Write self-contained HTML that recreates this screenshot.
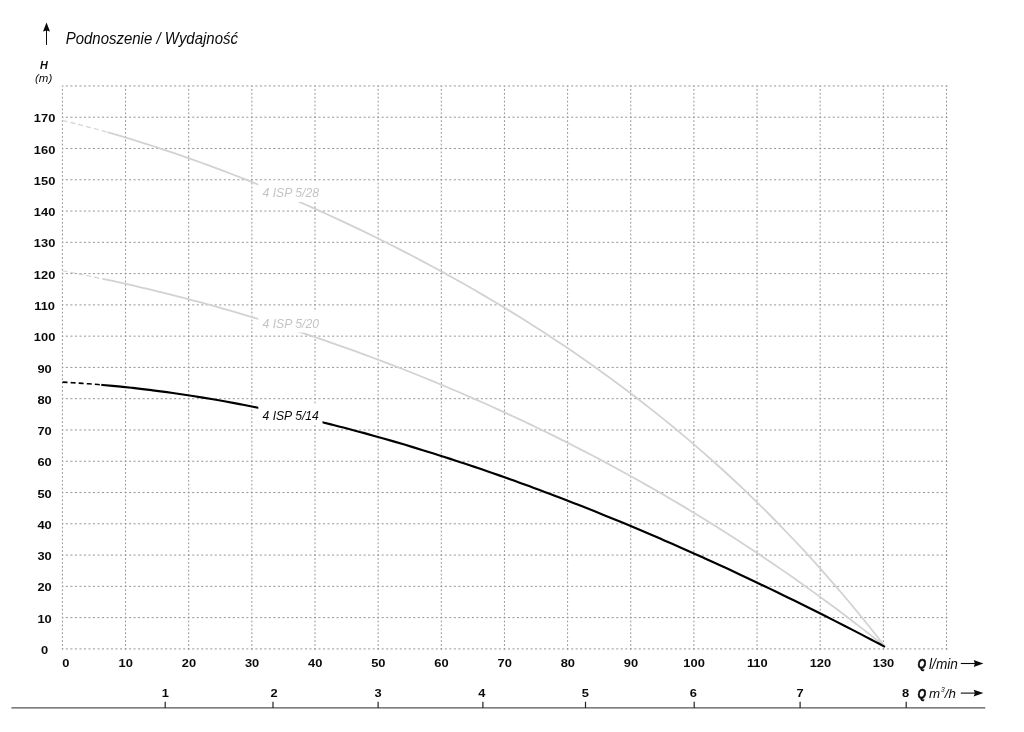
<!DOCTYPE html>
<html lang="pl"><head><meta charset="utf-8"><title>Podnoszenie / Wydajność</title>
<style>html,body{margin:0;padding:0;background:#fff}body{width:1024px;height:732px;overflow:hidden}svg{display:block;will-change:transform}
text{font-family:"Liberation Sans",Arial,sans-serif;fill:#0a0a0a}
.n{font-weight:bold;font-size:11.5px;text-anchor:middle}
.it{font-style:italic}.bi{font-style:italic;font-weight:bold}
</style></head><body>
<svg width="1024" height="732" viewBox="0 0 1024 732">
<rect width="1024" height="732" fill="#fff"/>
<g stroke="#949494" stroke-width="1" fill="none">
<path d="M62.40 85.95H947.50" stroke-dasharray="2 2.511" stroke-dashoffset="1"/>
<path d="M62.40 117.22H947.50" stroke-dasharray="2 2.511" stroke-dashoffset="1"/>
<path d="M62.40 148.50H947.50" stroke-dasharray="2 2.511" stroke-dashoffset="1"/>
<path d="M62.40 179.77H947.50" stroke-dasharray="2 2.511" stroke-dashoffset="1"/>
<path d="M62.40 211.05H947.50" stroke-dasharray="2 2.511" stroke-dashoffset="1"/>
<path d="M62.40 242.32H947.50" stroke-dasharray="2 2.511" stroke-dashoffset="1"/>
<path d="M62.40 273.60H947.50" stroke-dasharray="2 2.511" stroke-dashoffset="1"/>
<path d="M62.40 304.88H947.50" stroke-dasharray="2 2.511" stroke-dashoffset="1"/>
<path d="M62.40 336.15H947.50" stroke-dasharray="2 2.511" stroke-dashoffset="1"/>
<path d="M62.40 367.42H947.50" stroke-dasharray="2 2.511" stroke-dashoffset="1"/>
<path d="M62.40 398.70H947.50" stroke-dasharray="2 2.511" stroke-dashoffset="1"/>
<path d="M62.40 429.97H947.50" stroke-dasharray="2 2.511" stroke-dashoffset="1"/>
<path d="M62.40 461.25H947.50" stroke-dasharray="2 2.511" stroke-dashoffset="1"/>
<path d="M62.40 492.52H947.50" stroke-dasharray="2 2.511" stroke-dashoffset="1"/>
<path d="M62.40 523.80H947.50" stroke-dasharray="2 2.511" stroke-dashoffset="1"/>
<path d="M62.40 555.08H947.50" stroke-dasharray="2 2.511" stroke-dashoffset="1"/>
<path d="M62.40 586.35H947.50" stroke-dasharray="2 2.511" stroke-dashoffset="1"/>
<path d="M62.40 617.62H947.50" stroke-dasharray="2 2.511" stroke-dashoffset="1"/>
<path d="M62.40 648.90H947.50" stroke-dasharray="2 2.511" stroke-dashoffset="1"/>
<path d="M62.40 85.95V649.90" stroke-dasharray="1.8 2.109" stroke-dashoffset="0.9"/>
<path d="M125.55 85.95V649.90" stroke-dasharray="1.8 2.109" stroke-dashoffset="0.9"/>
<path d="M188.70 85.95V649.90" stroke-dasharray="1.8 2.109" stroke-dashoffset="0.9"/>
<path d="M251.85 85.95V649.90" stroke-dasharray="1.8 2.109" stroke-dashoffset="0.9"/>
<path d="M315.00 85.95V649.90" stroke-dasharray="1.8 2.109" stroke-dashoffset="0.9"/>
<path d="M378.15 85.95V649.90" stroke-dasharray="1.8 2.109" stroke-dashoffset="0.9"/>
<path d="M441.30 85.95V649.90" stroke-dasharray="1.8 2.109" stroke-dashoffset="0.9"/>
<path d="M504.45 85.95V649.90" stroke-dasharray="1.8 2.109" stroke-dashoffset="0.9"/>
<path d="M567.60 85.95V649.90" stroke-dasharray="1.8 2.109" stroke-dashoffset="0.9"/>
<path d="M630.75 85.95V649.90" stroke-dasharray="1.8 2.109" stroke-dashoffset="0.9"/>
<path d="M693.90 85.95V649.90" stroke-dasharray="1.8 2.109" stroke-dashoffset="0.9"/>
<path d="M757.05 85.95V649.90" stroke-dasharray="1.8 2.109" stroke-dashoffset="0.9"/>
<path d="M820.20 85.95V649.90" stroke-dasharray="1.8 2.109" stroke-dashoffset="0.9"/>
<path d="M883.35 85.95V649.90" stroke-dasharray="1.8 2.109" stroke-dashoffset="0.9"/>
<path d="M946.50 85.95V649.90" stroke-dasharray="1.8 2.109" stroke-dashoffset="0.9"/>
</g>
<clipPath id="c43759a"><rect x="0" y="0" width="107.50" height="732"/></clipPath>
<clipPath id="c43759b"><rect x="107.50" y="0" width="916.50" height="732"/></clipPath>
<path d="M62.50 120.48 C64.17 120.89 69.18 122.10 72.52 122.93 C75.86 123.76 79.20 124.62 82.54 125.48 C85.88 126.35 89.22 127.24 92.55 128.14 C95.89 129.04 99.23 129.95 102.57 130.89 C105.91 131.82 109.25 132.77 112.59 133.73 C115.93 134.69 119.27 135.67 122.61 136.66 C125.95 137.66 129.29 138.67 132.63 139.69 C135.97 140.71 139.31 141.75 142.65 142.80 C145.99 143.85 149.33 144.92 152.66 146.00 C156.00 147.08 159.34 148.18 162.68 149.28 C166.02 150.39 169.36 151.51 172.70 152.65 C176.04 153.79 179.38 154.93 182.72 156.10 C186.06 157.26 189.40 158.44 192.74 159.62 C196.08 160.81 199.42 162.02 202.76 163.23 C206.10 164.45 209.43 165.67 212.77 166.92 C216.11 168.16 219.45 169.41 222.79 170.68 C226.13 171.94 229.47 173.22 232.81 174.51 C236.15 175.80 239.49 177.11 242.83 178.42 C246.17 179.74 249.51 181.07 252.85 182.41 C256.19 183.75 259.53 185.11 262.87 186.47 C266.21 187.84 269.54 189.22 272.88 190.61 C276.22 192.00 279.56 193.40 282.90 194.81 C286.24 196.23 289.58 197.66 292.92 199.09 C296.26 200.53 299.60 201.99 302.94 203.45 C306.28 204.91 309.62 206.39 312.96 207.88 C316.30 209.37 319.64 210.87 322.98 212.38 C326.32 213.89 329.65 215.42 332.99 216.95 C336.33 218.49 339.67 220.04 343.01 221.61 C346.35 223.17 349.69 224.74 353.03 226.33 C356.37 227.92 359.71 229.52 363.05 231.13 C366.39 232.75 369.73 234.37 373.07 236.01 C376.41 237.65 379.75 239.30 383.09 240.97 C386.42 242.63 389.76 244.31 393.10 246.00 C396.44 247.69 399.78 249.40 403.12 251.12 C406.46 252.84 409.80 254.57 413.14 256.31 C416.48 258.06 419.82 259.82 423.16 261.59 C426.50 263.37 429.84 265.15 433.18 266.96 C436.52 268.76 439.86 270.58 443.20 272.41 C446.53 274.24 449.87 276.08 453.21 277.95 C456.55 279.81 459.89 281.68 463.23 283.57 C466.57 285.47 469.91 287.37 473.25 289.29 C476.59 291.22 479.93 293.15 483.27 295.11 C486.61 297.06 489.95 299.03 493.29 301.02 C496.63 303.01 499.97 305.01 503.30 307.03 C506.64 309.05 509.98 311.09 513.32 313.14 C516.66 315.20 520.00 317.27 523.34 319.36 C526.68 321.45 530.02 323.56 533.36 325.68 C536.70 327.81 540.04 329.95 543.38 332.11 C546.72 334.28 550.06 336.46 553.40 338.66 C556.74 340.86 560.08 343.08 563.41 345.32 C566.75 347.56 570.09 349.82 573.43 352.10 C576.77 354.39 580.11 356.69 583.45 359.01 C586.79 361.33 590.13 363.68 593.47 366.04 C596.81 368.41 600.15 370.79 603.49 373.20 C606.83 375.61 610.17 378.04 613.51 380.50 C616.85 382.95 620.18 385.43 623.52 387.93 C626.86 390.43 630.20 392.96 633.54 395.51 C636.88 398.05 640.22 400.63 643.56 403.23 C646.90 405.83 650.24 408.45 653.58 411.10 C656.92 413.75 660.26 416.42 663.60 419.12 C666.94 421.83 670.28 424.55 673.62 427.31 C676.96 430.06 680.29 432.85 683.63 435.66 C686.97 438.47 690.31 441.31 693.65 444.17 C696.99 447.04 700.33 449.94 703.67 452.86 C707.01 455.79 710.35 458.75 713.69 461.73 C717.03 464.72 720.37 467.74 723.71 470.79 C727.05 473.84 730.39 476.91 733.73 480.03 C737.07 483.14 740.40 486.28 743.74 489.46 C747.08 492.64 750.42 495.85 753.76 499.10 C757.10 502.34 760.44 505.62 763.78 508.94 C767.12 512.25 770.46 515.60 773.80 518.99 C777.14 522.38 780.48 525.80 783.82 529.26 C787.16 532.72 790.50 536.21 793.84 539.75 C797.17 543.28 800.51 546.86 803.85 550.47 C807.19 554.08 810.53 557.73 813.87 561.42 C817.21 565.11 820.55 568.85 823.89 572.62 C827.23 576.39 830.57 580.21 833.91 584.06 C837.25 587.92 840.59 591.82 843.93 595.76 C847.27 599.70 850.61 603.69 853.95 607.72 C857.28 611.75 860.62 615.83 863.96 619.95 C867.30 624.07 870.64 628.24 873.98 632.45 C877.32 636.67 882.33 643.11 884.00 645.24" fill="none" stroke="#d2d2d2" stroke-width="1.15" stroke-dasharray="5 3.1" clip-path="url(#c43759a)"/>
<path d="M62.50 120.48 C64.17 120.89 69.18 122.10 72.52 122.93 C75.86 123.76 79.20 124.62 82.54 125.48 C85.88 126.35 89.22 127.24 92.55 128.14 C95.89 129.04 99.23 129.95 102.57 130.89 C105.91 131.82 109.25 132.77 112.59 133.73 C115.93 134.69 119.27 135.67 122.61 136.66 C125.95 137.66 129.29 138.67 132.63 139.69 C135.97 140.71 139.31 141.75 142.65 142.80 C145.99 143.85 149.33 144.92 152.66 146.00 C156.00 147.08 159.34 148.18 162.68 149.28 C166.02 150.39 169.36 151.51 172.70 152.65 C176.04 153.79 179.38 154.93 182.72 156.10 C186.06 157.26 189.40 158.44 192.74 159.62 C196.08 160.81 199.42 162.02 202.76 163.23 C206.10 164.45 209.43 165.67 212.77 166.92 C216.11 168.16 219.45 169.41 222.79 170.68 C226.13 171.94 229.47 173.22 232.81 174.51 C236.15 175.80 239.49 177.11 242.83 178.42 C246.17 179.74 249.51 181.07 252.85 182.41 C256.19 183.75 259.53 185.11 262.87 186.47 C266.21 187.84 269.54 189.22 272.88 190.61 C276.22 192.00 279.56 193.40 282.90 194.81 C286.24 196.23 289.58 197.66 292.92 199.09 C296.26 200.53 299.60 201.99 302.94 203.45 C306.28 204.91 309.62 206.39 312.96 207.88 C316.30 209.37 319.64 210.87 322.98 212.38 C326.32 213.89 329.65 215.42 332.99 216.95 C336.33 218.49 339.67 220.04 343.01 221.61 C346.35 223.17 349.69 224.74 353.03 226.33 C356.37 227.92 359.71 229.52 363.05 231.13 C366.39 232.75 369.73 234.37 373.07 236.01 C376.41 237.65 379.75 239.30 383.09 240.97 C386.42 242.63 389.76 244.31 393.10 246.00 C396.44 247.69 399.78 249.40 403.12 251.12 C406.46 252.84 409.80 254.57 413.14 256.31 C416.48 258.06 419.82 259.82 423.16 261.59 C426.50 263.37 429.84 265.15 433.18 266.96 C436.52 268.76 439.86 270.58 443.20 272.41 C446.53 274.24 449.87 276.08 453.21 277.95 C456.55 279.81 459.89 281.68 463.23 283.57 C466.57 285.47 469.91 287.37 473.25 289.29 C476.59 291.22 479.93 293.15 483.27 295.11 C486.61 297.06 489.95 299.03 493.29 301.02 C496.63 303.01 499.97 305.01 503.30 307.03 C506.64 309.05 509.98 311.09 513.32 313.14 C516.66 315.20 520.00 317.27 523.34 319.36 C526.68 321.45 530.02 323.56 533.36 325.68 C536.70 327.81 540.04 329.95 543.38 332.11 C546.72 334.28 550.06 336.46 553.40 338.66 C556.74 340.86 560.08 343.08 563.41 345.32 C566.75 347.56 570.09 349.82 573.43 352.10 C576.77 354.39 580.11 356.69 583.45 359.01 C586.79 361.33 590.13 363.68 593.47 366.04 C596.81 368.41 600.15 370.79 603.49 373.20 C606.83 375.61 610.17 378.04 613.51 380.50 C616.85 382.95 620.18 385.43 623.52 387.93 C626.86 390.43 630.20 392.96 633.54 395.51 C636.88 398.05 640.22 400.63 643.56 403.23 C646.90 405.83 650.24 408.45 653.58 411.10 C656.92 413.75 660.26 416.42 663.60 419.12 C666.94 421.83 670.28 424.55 673.62 427.31 C676.96 430.06 680.29 432.85 683.63 435.66 C686.97 438.47 690.31 441.31 693.65 444.17 C696.99 447.04 700.33 449.94 703.67 452.86 C707.01 455.79 710.35 458.75 713.69 461.73 C717.03 464.72 720.37 467.74 723.71 470.79 C727.05 473.84 730.39 476.91 733.73 480.03 C737.07 483.14 740.40 486.28 743.74 489.46 C747.08 492.64 750.42 495.85 753.76 499.10 C757.10 502.34 760.44 505.62 763.78 508.94 C767.12 512.25 770.46 515.60 773.80 518.99 C777.14 522.38 780.48 525.80 783.82 529.26 C787.16 532.72 790.50 536.21 793.84 539.75 C797.17 543.28 800.51 546.86 803.85 550.47 C807.19 554.08 810.53 557.73 813.87 561.42 C817.21 565.11 820.55 568.85 823.89 572.62 C827.23 576.39 830.57 580.21 833.91 584.06 C837.25 587.92 840.59 591.82 843.93 595.76 C847.27 599.70 850.61 603.69 853.95 607.72 C857.28 611.75 860.62 615.83 863.96 619.95 C867.30 624.07 870.64 628.24 873.98 632.45 C877.32 636.67 882.33 643.11 884.00 645.24" fill="none" stroke="#d2d2d2" stroke-width="1.80" clip-path="url(#c43759b)"/>
<clipPath id="c71936a"><rect x="0" y="0" width="102.50" height="732"/></clipPath>
<clipPath id="c71936b"><rect x="102.50" y="0" width="921.50" height="732"/></clipPath>
<path d="M62.50 270.81 C64.17 271.13 69.18 272.07 72.52 272.72 C75.86 273.36 79.20 274.02 82.54 274.68 C85.88 275.35 89.22 276.03 92.55 276.71 C95.89 277.40 99.23 278.09 102.57 278.80 C105.91 279.51 109.25 280.22 112.59 280.95 C115.93 281.67 119.27 282.41 122.61 283.16 C125.95 283.90 129.29 284.66 132.63 285.43 C135.97 286.19 139.31 286.97 142.65 287.76 C145.99 288.54 149.33 289.34 152.66 290.15 C156.00 290.95 159.34 291.77 162.68 292.60 C166.02 293.42 169.36 294.26 172.70 295.10 C176.04 295.95 179.38 296.81 182.72 297.67 C186.06 298.54 189.40 299.41 192.74 300.30 C196.08 301.18 199.42 302.08 202.76 302.99 C206.10 303.89 209.43 304.81 212.77 305.73 C216.11 306.66 219.45 307.59 222.79 308.54 C226.13 309.48 229.47 310.43 232.81 311.40 C236.15 312.36 239.49 313.34 242.83 314.32 C246.17 315.31 249.51 316.30 252.85 317.30 C256.19 318.31 259.53 319.32 262.87 320.35 C266.21 321.37 269.54 322.40 272.88 323.45 C276.22 324.49 279.56 325.54 282.90 326.61 C286.24 327.67 289.58 328.74 292.92 329.83 C296.26 330.91 299.60 332.00 302.94 333.11 C306.28 334.21 309.62 335.33 312.96 336.45 C316.30 337.57 319.64 338.71 322.98 339.85 C326.32 340.99 329.65 342.15 332.99 343.31 C336.33 344.48 339.67 345.65 343.01 346.83 C346.35 348.02 349.69 349.21 353.03 350.42 C356.37 351.62 359.71 352.84 363.05 354.06 C366.39 355.29 369.73 356.52 373.07 357.77 C376.41 359.02 379.75 360.27 383.09 361.54 C386.42 362.81 389.76 364.08 393.10 365.37 C396.44 366.66 399.78 367.96 403.12 369.27 C406.46 370.58 409.80 371.90 413.14 373.23 C416.48 374.56 419.82 375.90 423.16 377.25 C426.50 378.60 429.84 379.97 433.18 381.34 C436.52 382.71 439.86 384.10 443.20 385.49 C446.53 386.89 449.87 388.29 453.21 389.71 C456.55 391.13 459.89 392.56 463.23 394.00 C466.57 395.44 469.91 396.89 473.25 398.35 C476.59 399.81 479.93 401.29 483.27 402.77 C486.61 404.26 489.95 405.75 493.29 407.26 C496.63 408.77 499.97 410.29 503.30 411.82 C506.64 413.35 509.98 414.89 513.32 416.45 C516.66 418.00 520.00 419.57 523.34 421.14 C526.68 422.72 530.02 424.31 533.36 425.91 C536.70 427.52 540.04 429.13 543.38 430.75 C546.72 432.38 550.06 434.02 553.40 435.67 C556.74 437.32 560.08 438.98 563.41 440.66 C566.75 442.33 570.09 444.02 573.43 445.72 C576.77 447.42 580.11 449.13 583.45 450.86 C586.79 452.59 590.13 454.32 593.47 456.07 C596.81 457.83 600.15 459.59 603.49 461.37 C606.83 463.14 610.17 464.93 613.51 466.74 C616.85 468.54 620.18 470.36 623.52 472.19 C626.86 474.02 630.20 475.86 633.54 477.72 C636.88 479.58 640.22 481.45 643.56 483.33 C646.90 485.22 650.24 487.11 653.58 489.03 C656.92 490.94 660.26 492.87 663.60 494.81 C666.94 496.75 670.28 498.70 673.62 500.67 C676.96 502.64 680.29 504.62 683.63 506.62 C686.97 508.62 690.31 510.63 693.65 512.66 C696.99 514.68 700.33 516.72 703.67 518.78 C707.01 520.84 710.35 522.91 713.69 525.00 C717.03 527.08 720.37 529.18 723.71 531.30 C727.05 533.42 730.39 535.55 733.73 537.70 C737.07 539.85 740.40 542.01 743.74 544.19 C747.08 546.37 750.42 548.57 753.76 550.78 C757.10 552.99 760.44 555.22 763.78 557.46 C767.12 559.70 770.46 561.96 773.80 564.24 C777.14 566.52 780.48 568.81 783.82 571.12 C787.16 573.43 790.50 575.75 793.84 578.10 C797.17 580.44 800.51 582.80 803.85 585.18 C807.19 587.56 810.53 589.95 813.87 592.36 C817.21 594.78 820.55 597.20 823.89 599.65 C827.23 602.10 830.57 604.57 833.91 607.05 C837.25 609.53 840.59 612.03 843.93 614.55 C847.27 617.07 850.61 619.61 853.95 622.17 C857.28 624.72 860.62 627.30 863.96 629.89 C867.30 632.48 870.64 635.10 873.98 637.73 C877.32 640.36 882.33 644.36 884.00 645.68" fill="none" stroke="#d2d2d2" stroke-width="1.15" stroke-dasharray="5 3.1" clip-path="url(#c71936a)"/>
<path d="M62.50 270.81 C64.17 271.13 69.18 272.07 72.52 272.72 C75.86 273.36 79.20 274.02 82.54 274.68 C85.88 275.35 89.22 276.03 92.55 276.71 C95.89 277.40 99.23 278.09 102.57 278.80 C105.91 279.51 109.25 280.22 112.59 280.95 C115.93 281.67 119.27 282.41 122.61 283.16 C125.95 283.90 129.29 284.66 132.63 285.43 C135.97 286.19 139.31 286.97 142.65 287.76 C145.99 288.54 149.33 289.34 152.66 290.15 C156.00 290.95 159.34 291.77 162.68 292.60 C166.02 293.42 169.36 294.26 172.70 295.10 C176.04 295.95 179.38 296.81 182.72 297.67 C186.06 298.54 189.40 299.41 192.74 300.30 C196.08 301.18 199.42 302.08 202.76 302.99 C206.10 303.89 209.43 304.81 212.77 305.73 C216.11 306.66 219.45 307.59 222.79 308.54 C226.13 309.48 229.47 310.43 232.81 311.40 C236.15 312.36 239.49 313.34 242.83 314.32 C246.17 315.31 249.51 316.30 252.85 317.30 C256.19 318.31 259.53 319.32 262.87 320.35 C266.21 321.37 269.54 322.40 272.88 323.45 C276.22 324.49 279.56 325.54 282.90 326.61 C286.24 327.67 289.58 328.74 292.92 329.83 C296.26 330.91 299.60 332.00 302.94 333.11 C306.28 334.21 309.62 335.33 312.96 336.45 C316.30 337.57 319.64 338.71 322.98 339.85 C326.32 340.99 329.65 342.15 332.99 343.31 C336.33 344.48 339.67 345.65 343.01 346.83 C346.35 348.02 349.69 349.21 353.03 350.42 C356.37 351.62 359.71 352.84 363.05 354.06 C366.39 355.29 369.73 356.52 373.07 357.77 C376.41 359.02 379.75 360.27 383.09 361.54 C386.42 362.81 389.76 364.08 393.10 365.37 C396.44 366.66 399.78 367.96 403.12 369.27 C406.46 370.58 409.80 371.90 413.14 373.23 C416.48 374.56 419.82 375.90 423.16 377.25 C426.50 378.60 429.84 379.97 433.18 381.34 C436.52 382.71 439.86 384.10 443.20 385.49 C446.53 386.89 449.87 388.29 453.21 389.71 C456.55 391.13 459.89 392.56 463.23 394.00 C466.57 395.44 469.91 396.89 473.25 398.35 C476.59 399.81 479.93 401.29 483.27 402.77 C486.61 404.26 489.95 405.75 493.29 407.26 C496.63 408.77 499.97 410.29 503.30 411.82 C506.64 413.35 509.98 414.89 513.32 416.45 C516.66 418.00 520.00 419.57 523.34 421.14 C526.68 422.72 530.02 424.31 533.36 425.91 C536.70 427.52 540.04 429.13 543.38 430.75 C546.72 432.38 550.06 434.02 553.40 435.67 C556.74 437.32 560.08 438.98 563.41 440.66 C566.75 442.33 570.09 444.02 573.43 445.72 C576.77 447.42 580.11 449.13 583.45 450.86 C586.79 452.59 590.13 454.32 593.47 456.07 C596.81 457.83 600.15 459.59 603.49 461.37 C606.83 463.14 610.17 464.93 613.51 466.74 C616.85 468.54 620.18 470.36 623.52 472.19 C626.86 474.02 630.20 475.86 633.54 477.72 C636.88 479.58 640.22 481.45 643.56 483.33 C646.90 485.22 650.24 487.11 653.58 489.03 C656.92 490.94 660.26 492.87 663.60 494.81 C666.94 496.75 670.28 498.70 673.62 500.67 C676.96 502.64 680.29 504.62 683.63 506.62 C686.97 508.62 690.31 510.63 693.65 512.66 C696.99 514.68 700.33 516.72 703.67 518.78 C707.01 520.84 710.35 522.91 713.69 525.00 C717.03 527.08 720.37 529.18 723.71 531.30 C727.05 533.42 730.39 535.55 733.73 537.70 C737.07 539.85 740.40 542.01 743.74 544.19 C747.08 546.37 750.42 548.57 753.76 550.78 C757.10 552.99 760.44 555.22 763.78 557.46 C767.12 559.70 770.46 561.96 773.80 564.24 C777.14 566.52 780.48 568.81 783.82 571.12 C787.16 573.43 790.50 575.75 793.84 578.10 C797.17 580.44 800.51 582.80 803.85 585.18 C807.19 587.56 810.53 589.95 813.87 592.36 C817.21 594.78 820.55 597.20 823.89 599.65 C827.23 602.10 830.57 604.57 833.91 607.05 C837.25 609.53 840.59 612.03 843.93 614.55 C847.27 617.07 850.61 619.61 853.95 622.17 C857.28 624.72 860.62 627.30 863.96 629.89 C867.30 632.48 870.64 635.10 873.98 637.73 C877.32 640.36 882.33 644.36 884.00 645.68" fill="none" stroke="#d2d2d2" stroke-width="1.80" clip-path="url(#c71936b)"/>
<clipPath id="c77671a"><rect x="0" y="0" width="101.30" height="732"/></clipPath>
<clipPath id="c77671b"><rect x="101.30" y="0" width="922.70" height="732"/></clipPath>
<path d="M62.50 382.13 C64.17 382.23 69.19 382.50 72.53 382.71 C75.87 382.92 79.22 383.14 82.56 383.37 C85.90 383.61 89.25 383.86 92.59 384.12 C95.93 384.38 99.28 384.66 102.62 384.95 C105.97 385.24 109.31 385.55 112.65 385.86 C116.00 386.18 119.34 386.51 122.68 386.86 C126.03 387.20 129.37 387.56 132.71 387.93 C136.06 388.30 139.40 388.69 142.74 389.08 C146.09 389.48 149.43 389.89 152.77 390.31 C156.12 390.74 159.46 391.17 162.80 391.62 C166.15 392.07 169.49 392.53 172.84 393.01 C176.18 393.48 179.52 393.97 182.87 394.47 C186.21 394.97 189.55 395.48 192.90 396.01 C196.24 396.53 199.58 397.07 202.93 397.62 C206.27 398.17 209.61 398.73 212.96 399.30 C216.30 399.88 219.64 400.46 222.99 401.06 C226.33 401.66 229.67 402.27 233.02 402.89 C236.36 403.51 239.71 404.14 243.05 404.79 C246.39 405.44 249.74 406.09 253.08 406.76 C256.42 407.43 259.77 408.11 263.11 408.80 C266.45 409.50 269.80 410.20 273.14 410.92 C276.48 411.63 279.83 412.36 283.17 413.09 C286.51 413.83 289.86 414.58 293.20 415.34 C296.54 416.10 299.89 416.87 303.23 417.66 C306.58 418.44 309.92 419.23 313.26 420.04 C316.61 420.84 319.95 421.66 323.29 422.48 C326.64 423.31 329.98 424.15 333.32 425.00 C336.67 425.84 340.01 426.70 343.35 427.57 C346.70 428.44 350.04 429.32 353.38 430.21 C356.73 431.10 360.07 432.00 363.41 432.91 C366.76 433.83 370.10 434.75 373.45 435.68 C376.79 436.61 380.13 437.55 383.48 438.51 C386.82 439.46 390.16 440.42 393.51 441.39 C396.85 442.37 400.19 443.35 403.54 444.34 C406.88 445.33 410.22 446.34 413.57 447.35 C416.91 448.36 420.25 449.39 423.60 450.42 C426.94 451.45 430.28 452.49 433.63 453.54 C436.97 454.60 440.32 455.66 443.66 456.73 C447.00 457.80 450.35 458.88 453.69 459.97 C457.03 461.06 460.38 462.16 463.72 463.27 C467.06 464.38 470.41 465.50 473.75 466.63 C477.09 467.75 480.44 468.89 483.78 470.04 C487.12 471.18 490.47 472.34 493.81 473.50 C497.15 474.67 500.50 475.84 503.84 477.02 C507.18 478.21 510.53 479.40 513.87 480.60 C517.22 481.80 520.56 483.01 523.90 484.23 C527.25 485.45 530.59 486.67 533.93 487.91 C537.28 489.15 540.62 490.39 543.96 491.65 C547.31 492.90 550.65 494.16 553.99 495.43 C557.34 496.70 560.68 497.98 564.02 499.27 C567.37 500.56 570.71 501.86 574.05 503.16 C577.40 504.47 580.74 505.78 584.09 507.10 C587.43 508.42 590.77 509.76 594.12 511.09 C597.46 512.43 600.80 513.78 604.15 515.13 C607.49 516.49 610.83 517.85 614.18 519.22 C617.52 520.60 620.86 521.98 624.21 523.36 C627.55 524.75 630.89 526.15 634.24 527.55 C637.58 528.95 640.92 530.37 644.27 531.79 C647.61 533.21 650.96 534.63 654.30 536.07 C657.64 537.51 660.99 538.95 664.33 540.40 C667.67 541.85 671.02 543.31 674.36 544.78 C677.70 546.24 681.05 547.72 684.39 549.20 C687.73 550.68 691.08 552.17 694.42 553.67 C697.76 555.17 701.11 556.67 704.45 558.19 C707.79 559.70 711.14 561.22 714.48 562.75 C717.83 564.27 721.17 565.81 724.51 567.35 C727.86 568.89 731.20 570.44 734.54 572.00 C737.89 573.56 741.23 575.12 744.57 576.70 C747.92 578.27 751.26 579.85 754.60 581.43 C757.95 583.02 761.29 584.61 764.63 586.21 C767.98 587.82 771.32 589.42 774.66 591.04 C778.01 592.66 781.35 594.28 784.70 595.91 C788.04 597.54 791.38 599.17 794.73 600.82 C798.07 602.46 801.41 604.11 804.76 605.77 C808.10 607.43 811.44 609.09 814.79 610.76 C818.13 612.44 821.47 614.12 824.82 615.80 C828.16 617.49 831.50 619.18 834.85 620.88 C838.19 622.58 841.53 624.28 844.88 626.00 C848.22 627.71 851.57 629.43 854.91 631.16 C858.25 632.88 861.60 634.62 864.94 636.36 C868.28 638.10 871.63 639.85 874.97 641.60 C878.31 643.35 883.33 646.00 885.00 646.88" fill="none" stroke="#000" stroke-width="1.60" stroke-dasharray="5 3.1" clip-path="url(#c77671a)"/>
<path d="M62.50 382.13 C64.17 382.23 69.19 382.50 72.53 382.71 C75.87 382.92 79.22 383.14 82.56 383.37 C85.90 383.61 89.25 383.86 92.59 384.12 C95.93 384.38 99.28 384.66 102.62 384.95 C105.97 385.24 109.31 385.55 112.65 385.86 C116.00 386.18 119.34 386.51 122.68 386.86 C126.03 387.20 129.37 387.56 132.71 387.93 C136.06 388.30 139.40 388.69 142.74 389.08 C146.09 389.48 149.43 389.89 152.77 390.31 C156.12 390.74 159.46 391.17 162.80 391.62 C166.15 392.07 169.49 392.53 172.84 393.01 C176.18 393.48 179.52 393.97 182.87 394.47 C186.21 394.97 189.55 395.48 192.90 396.01 C196.24 396.53 199.58 397.07 202.93 397.62 C206.27 398.17 209.61 398.73 212.96 399.30 C216.30 399.88 219.64 400.46 222.99 401.06 C226.33 401.66 229.67 402.27 233.02 402.89 C236.36 403.51 239.71 404.14 243.05 404.79 C246.39 405.44 249.74 406.09 253.08 406.76 C256.42 407.43 259.77 408.11 263.11 408.80 C266.45 409.50 269.80 410.20 273.14 410.92 C276.48 411.63 279.83 412.36 283.17 413.09 C286.51 413.83 289.86 414.58 293.20 415.34 C296.54 416.10 299.89 416.87 303.23 417.66 C306.58 418.44 309.92 419.23 313.26 420.04 C316.61 420.84 319.95 421.66 323.29 422.48 C326.64 423.31 329.98 424.15 333.32 425.00 C336.67 425.84 340.01 426.70 343.35 427.57 C346.70 428.44 350.04 429.32 353.38 430.21 C356.73 431.10 360.07 432.00 363.41 432.91 C366.76 433.83 370.10 434.75 373.45 435.68 C376.79 436.61 380.13 437.55 383.48 438.51 C386.82 439.46 390.16 440.42 393.51 441.39 C396.85 442.37 400.19 443.35 403.54 444.34 C406.88 445.33 410.22 446.34 413.57 447.35 C416.91 448.36 420.25 449.39 423.60 450.42 C426.94 451.45 430.28 452.49 433.63 453.54 C436.97 454.60 440.32 455.66 443.66 456.73 C447.00 457.80 450.35 458.88 453.69 459.97 C457.03 461.06 460.38 462.16 463.72 463.27 C467.06 464.38 470.41 465.50 473.75 466.63 C477.09 467.75 480.44 468.89 483.78 470.04 C487.12 471.18 490.47 472.34 493.81 473.50 C497.15 474.67 500.50 475.84 503.84 477.02 C507.18 478.21 510.53 479.40 513.87 480.60 C517.22 481.80 520.56 483.01 523.90 484.23 C527.25 485.45 530.59 486.67 533.93 487.91 C537.28 489.15 540.62 490.39 543.96 491.65 C547.31 492.90 550.65 494.16 553.99 495.43 C557.34 496.70 560.68 497.98 564.02 499.27 C567.37 500.56 570.71 501.86 574.05 503.16 C577.40 504.47 580.74 505.78 584.09 507.10 C587.43 508.42 590.77 509.76 594.12 511.09 C597.46 512.43 600.80 513.78 604.15 515.13 C607.49 516.49 610.83 517.85 614.18 519.22 C617.52 520.60 620.86 521.98 624.21 523.36 C627.55 524.75 630.89 526.15 634.24 527.55 C637.58 528.95 640.92 530.37 644.27 531.79 C647.61 533.21 650.96 534.63 654.30 536.07 C657.64 537.51 660.99 538.95 664.33 540.40 C667.67 541.85 671.02 543.31 674.36 544.78 C677.70 546.24 681.05 547.72 684.39 549.20 C687.73 550.68 691.08 552.17 694.42 553.67 C697.76 555.17 701.11 556.67 704.45 558.19 C707.79 559.70 711.14 561.22 714.48 562.75 C717.83 564.27 721.17 565.81 724.51 567.35 C727.86 568.89 731.20 570.44 734.54 572.00 C737.89 573.56 741.23 575.12 744.57 576.70 C747.92 578.27 751.26 579.85 754.60 581.43 C757.95 583.02 761.29 584.61 764.63 586.21 C767.98 587.82 771.32 589.42 774.66 591.04 C778.01 592.66 781.35 594.28 784.70 595.91 C788.04 597.54 791.38 599.17 794.73 600.82 C798.07 602.46 801.41 604.11 804.76 605.77 C808.10 607.43 811.44 609.09 814.79 610.76 C818.13 612.44 821.47 614.12 824.82 615.80 C828.16 617.49 831.50 619.18 834.85 620.88 C838.19 622.58 841.53 624.28 844.88 626.00 C848.22 627.71 851.57 629.43 854.91 631.16 C858.25 632.88 861.60 634.62 864.94 636.36 C868.28 638.10 871.63 639.85 874.97 641.60 C878.31 643.35 883.33 646.00 885.00 646.88" fill="none" stroke="#000" stroke-width="2.15" clip-path="url(#c77671b)"/>
<rect x="258.3" y="180.80" width="64.2" height="21.2" fill="#fff"/>
<rect x="258.3" y="311.30" width="64.2" height="21.2" fill="#fff"/>
<rect x="258.3" y="403.80" width="64.2" height="21.2" fill="#fff"/>
<text class="it" x="262.5" y="197" font-size="13.5" textLength="56.5" lengthAdjust="spacingAndGlyphs" style="fill:#c4c4c4">4 ISP 5/28</text>
<text class="it" x="262.5" y="327.5" font-size="13.5" textLength="56.5" lengthAdjust="spacingAndGlyphs" style="fill:#c4c4c4">4 ISP 5/20</text>
<text class="it" x="262.5" y="420" font-size="13.5" textLength="56.3" lengthAdjust="spacingAndGlyphs">4 ISP 5/14</text>
<path d="M46.5 44.9V30" stroke="#0a0a0a" stroke-width="1.05" fill="none"/>
<path d="M46.5 22.4L50.0 31.5L46.5 30.6L43.0 31.5Z" fill="#0a0a0a"/>
<text class="it" x="65.7" y="43.6" font-size="16.4" textLength="172.3" lengthAdjust="spacingAndGlyphs">Podnoszenie / Wydajność</text>
<text class="bi" x="43.8" y="69.1" font-size="10.8" text-anchor="middle">H</text>
<text class="it" x="43.6" y="82.0" font-size="11.5" text-anchor="middle">(m)</text>
<text class="n" transform="translate(44.60 122.32) scale(1.120 1)">170</text>
<text class="n" transform="translate(44.60 153.60) scale(1.120 1)">160</text>
<text class="n" transform="translate(44.60 184.87) scale(1.120 1)">150</text>
<text class="n" transform="translate(44.60 216.15) scale(1.120 1)">140</text>
<text class="n" transform="translate(44.60 247.42) scale(1.120 1)">130</text>
<text class="n" transform="translate(44.60 278.70) scale(1.120 1)">120</text>
<text class="n" transform="translate(44.60 309.98) scale(1.120 1)">110</text>
<text class="n" transform="translate(44.60 341.25) scale(1.120 1)">100</text>
<text class="n" transform="translate(44.60 372.52) scale(1.120 1)">90</text>
<text class="n" transform="translate(44.60 403.80) scale(1.120 1)">80</text>
<text class="n" transform="translate(44.60 435.07) scale(1.120 1)">70</text>
<text class="n" transform="translate(44.60 466.35) scale(1.120 1)">60</text>
<text class="n" transform="translate(44.60 497.62) scale(1.120 1)">50</text>
<text class="n" transform="translate(44.60 528.90) scale(1.120 1)">40</text>
<text class="n" transform="translate(44.60 560.18) scale(1.120 1)">30</text>
<text class="n" transform="translate(44.60 591.45) scale(1.120 1)">20</text>
<text class="n" transform="translate(44.60 622.73) scale(1.120 1)">10</text>
<text class="n" transform="translate(44.60 654.00) scale(1.120 1)">0</text>
<text class="n" transform="translate(65.80 667.30) scale(1.120 1)">0</text>
<text class="n" transform="translate(125.75 667.30) scale(1.120 1)">10</text>
<text class="n" transform="translate(188.90 667.30) scale(1.120 1)">20</text>
<text class="n" transform="translate(252.05 667.30) scale(1.120 1)">30</text>
<text class="n" transform="translate(315.20 667.30) scale(1.120 1)">40</text>
<text class="n" transform="translate(378.35 667.30) scale(1.120 1)">50</text>
<text class="n" transform="translate(441.50 667.30) scale(1.120 1)">60</text>
<text class="n" transform="translate(504.65 667.30) scale(1.120 1)">70</text>
<text class="n" transform="translate(567.80 667.30) scale(1.120 1)">80</text>
<text class="n" transform="translate(630.95 667.30) scale(1.120 1)">90</text>
<text class="n" transform="translate(694.10 667.30) scale(1.120 1)">100</text>
<text class="n" transform="translate(757.25 667.30) scale(1.120 1)">110</text>
<text class="n" transform="translate(820.40 667.30) scale(1.120 1)">120</text>
<text class="n" transform="translate(883.55 667.30) scale(1.120 1)">130</text>
<path d="M11.4 707.9H985.3" stroke="#555" stroke-width="1.3" fill="none"/>
<path d="M165.20 701.7V708" stroke="#222" stroke-width="1.2" fill="none"/>
<text class="n" transform="translate(165.40 696.60) scale(1.120 1)">1</text>
<path d="M273.00 701.7V708" stroke="#222" stroke-width="1.2" fill="none"/>
<text class="n" transform="translate(274.00 696.60) scale(1.120 1)">2</text>
<path d="M378.10 701.7V708" stroke="#222" stroke-width="1.2" fill="none"/>
<text class="n" transform="translate(378.00 696.60) scale(1.120 1)">3</text>
<path d="M482.90 701.7V708" stroke="#222" stroke-width="1.2" fill="none"/>
<text class="n" transform="translate(481.90 696.60) scale(1.120 1)">4</text>
<path d="M585.50 701.7V708" stroke="#222" stroke-width="1.2" fill="none"/>
<text class="n" transform="translate(585.30 696.60) scale(1.120 1)">5</text>
<path d="M694.20 701.7V708" stroke="#222" stroke-width="1.2" fill="none"/>
<text class="n" transform="translate(693.40 696.60) scale(1.120 1)">6</text>
<path d="M800.10 701.7V708" stroke="#222" stroke-width="1.2" fill="none"/>
<text class="n" transform="translate(800.20 696.60) scale(1.120 1)">7</text>
<path d="M906.20 701.7V708" stroke="#222" stroke-width="1.2" fill="none"/>
<text class="n" transform="translate(905.70 696.60) scale(1.120 1)">8</text>
<text class="bi" transform="translate(917.4 667.9) scale(0.9 1)" font-size="12.2" stroke="#111" stroke-width="0.5">Q</text>
<text class="it" x="929.1" y="668.6" font-size="13.8" textLength="28.8" lengthAdjust="spacingAndGlyphs">l/min</text>
<text class="bi" transform="translate(917.4 697.5) scale(0.9 1)" font-size="12.2" stroke="#111" stroke-width="0.5">Q</text>
<text class="it" transform="translate(929.1 697.8) scale(0.98 1)" font-size="13.6">m<tspan font-size="6.8" dy="-5.6" dx="0.8">3</tspan><tspan dy="5.6">/h</tspan></text>
<path d="M960.80 663.50H976.80" stroke="#0a0a0a" stroke-width="1.1" fill="none"/>
<path d="M983.40 663.50L973.70 660.10L974.90 663.50L973.70 666.90Z" fill="#0a0a0a"/>
<path d="M960.80 693.10H976.80" stroke="#0a0a0a" stroke-width="1.1" fill="none"/>
<path d="M983.40 693.10L973.70 689.70L974.90 693.10L973.70 696.50Z" fill="#0a0a0a"/>
</svg></body></html>
